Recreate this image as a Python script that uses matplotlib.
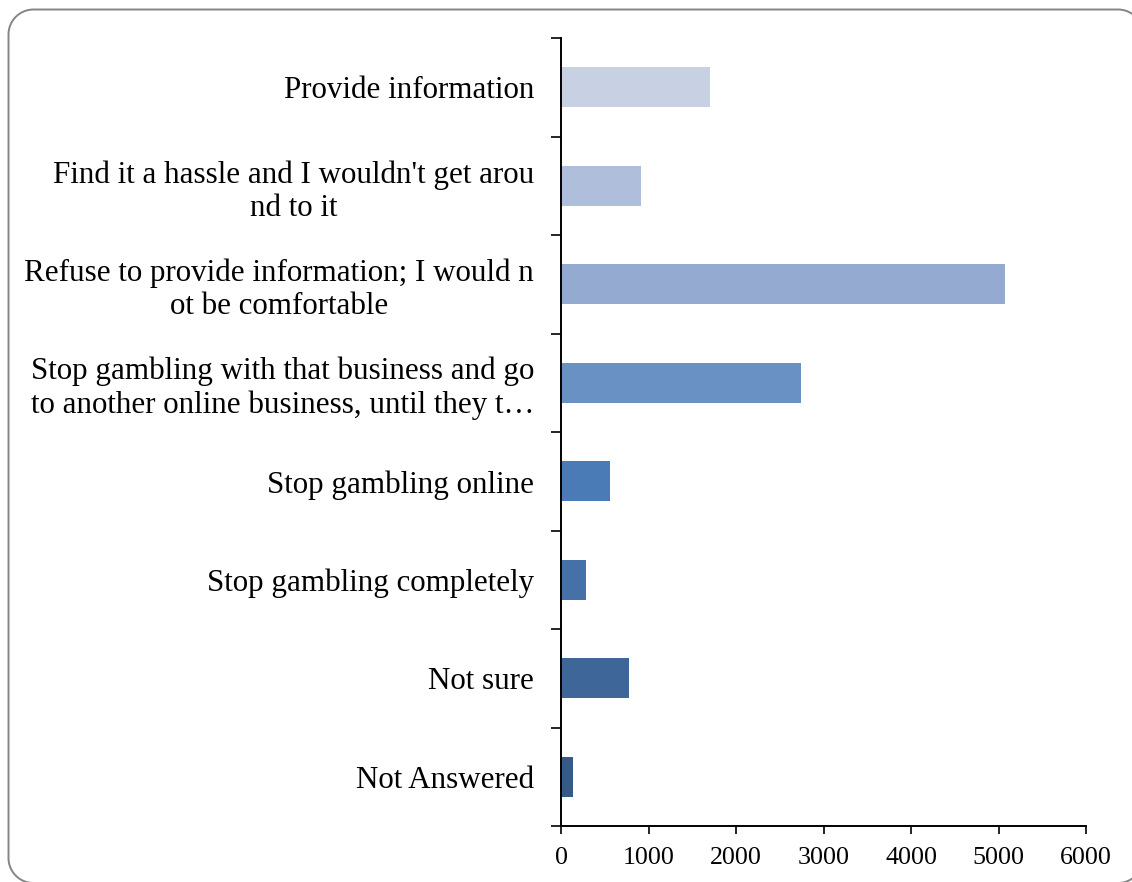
import matplotlib
matplotlib.use("Agg")
import matplotlib.pyplot as plt
from matplotlib.path import Path
from matplotlib.patches import PathPatch
import numpy as np

categories = [
    "Provide information",
    "Find it a hassle and I wouldn't get arou\nnd to it",
    "Refuse to provide information; I would n\not be comfortable",
    "Stop gambling with that business and go\nto another online business, until they t\u2026",
    "Stop gambling online",
    "Stop gambling completely",
    "Not sure",
    "Not Answered",
]
values = [1700, 910, 5070, 2740, 560, 285, 780, 135]
colors = ["#C8D1E4", "#AFBFDB", "#95AAD1", "#6A91C3",
          "#4A7BB7", "#4571A8", "#3E6698", "#365A87"]
x_ticks = [0, 1000, 2000, 3000, 4000, 5000, 6000]

W, H, DPI = 1132, 882, 100
fig = plt.figure(figsize=(W / DPI, H / DPI), dpi=DPI)
fig.patch.set_facecolor("white")


def rounded_rect(x0, y0, x1, y1, r, n=24):
    """Closed rounded-rectangle outline in pixel coordinates (y up)."""
    pts = []
    corners = [(x1 - r, y1 - r, 0), (x0 + r, y1 - r, 90),
               (x0 + r, y0 + r, 180), (x1 - r, y0 + r, 270)]
    for cx, cy, a0 in corners:
        t = np.radians(np.linspace(a0, a0 + 90, n))
        pts.extend(zip(cx + r * np.cos(t), cy + r * np.sin(t)))
    pts.append(pts[0])
    return Path(pts)


frame = PathPatch(rounded_rect(8.5, -1.0, 1143.0, H - 9.5, 25),
                  transform=None, facecolor="none", edgecolor="#858585",
                  linewidth=1.4, clip_on=False)
fig.patches.append(frame)

ax = fig.add_axes([561 / W, 1 - 826 / H, (1086 - 561) / W, (826 - 38) / H])

pos = np.arange(len(categories))
ax.barh(pos, values, height=0.41, color=colors, zorder=2)

ax.set_xlim(0, 6000)
ax.set_ylim(len(categories) - 0.5, -0.5)

serif = ["Liberation Serif", "DejaVu Serif"]

ax.set_xticks(x_ticks)
ax.set_xticklabels([str(t) for t in x_ticks], fontsize=18.7, family=serif)
ax.tick_params(axis="x", direction="out", length=6, width=1.2, pad=9,
               colors="black")

ax.set_yticks(pos)
ax.set_yticklabels(categories, fontsize=22.3, family=serif,
                   multialignment="center", linespacing=1.2)
ax.tick_params(axis="y", which="major", length=0, pad=19.5)
ax.set_yticks(np.arange(-0.5, len(categories)), minor=True)
ax.tick_params(axis="y", which="minor", direction="out", length=7,
               width=1.2, colors="black")

for side in ("top", "right"):
    ax.spines[side].set_visible(False)
for side in ("left", "bottom"):
    ax.spines[side].set_linewidth(1.4)
    ax.spines[side].set_color("black")

ax.set_facecolor("white")
fig.savefig("out.png", dpi=DPI, facecolor="white")
